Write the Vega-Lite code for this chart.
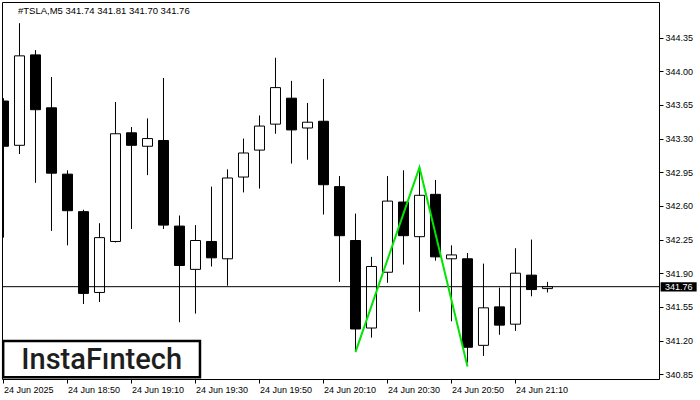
{
  "$schema": "https://vega.github.io/schema/vega-lite/v6.json",
  "width": 657,
  "height": 377,
  "autosize": {"type": "none"},
  "padding": {"left": 2, "top": 2, "right": 41, "bottom": 21},
  "background": "white",
  "config": {
    "view": {"stroke": "black", "strokeWidth": 1},
    "font": "Liberation Sans",
    "axis": {"labelOverlap": false, "labelBound": false},
    "scale": {"continuousPadding": 0}
  },
  "datasets": {
    "candles": [
      {"t": "2025-06-24T18:30:00Z", "o": 343.69, "h": 343.72, "l": 342.27, "c": 343.22},
      {"t": "2025-06-24T18:35:00Z", "o": 343.23, "h": 344.50, "l": 343.14, "c": 344.16},
      {"t": "2025-06-24T18:40:00Z", "o": 344.17, "h": 344.22, "l": 342.84, "c": 343.60},
      {"t": "2025-06-24T18:45:00Z", "o": 343.62, "h": 343.94, "l": 342.34, "c": 342.94},
      {"t": "2025-06-24T18:50:00Z", "o": 342.93, "h": 342.97, "l": 342.19, "c": 342.55},
      {"t": "2025-06-24T18:55:00Z", "o": 342.54, "h": 342.56, "l": 341.58, "c": 341.69},
      {"t": "2025-06-24T19:00:00Z", "o": 341.70, "h": 342.42, "l": 341.60, "c": 342.27},
      {"t": "2025-06-24T19:05:00Z", "o": 342.23, "h": 343.68, "l": 342.22, "c": 343.35},
      {"t": "2025-06-24T19:10:00Z", "o": 343.36, "h": 343.42, "l": 342.36, "c": 343.23},
      {"t": "2025-06-24T19:15:00Z", "o": 343.22, "h": 343.51, "l": 342.92, "c": 343.30},
      {"t": "2025-06-24T19:20:00Z", "o": 343.28, "h": 343.93, "l": 342.36, "c": 342.40},
      {"t": "2025-06-24T19:25:00Z", "o": 342.39, "h": 342.50, "l": 341.39, "c": 341.98},
      {"t": "2025-06-24T19:30:00Z", "o": 341.94, "h": 342.40, "l": 341.48, "c": 342.24},
      {"t": "2025-06-24T19:35:00Z", "o": 342.23, "h": 342.80, "l": 341.97, "c": 342.06},
      {"t": "2025-06-24T19:40:00Z", "o": 342.05, "h": 342.98, "l": 341.77, "c": 342.89},
      {"t": "2025-06-24T19:45:00Z", "o": 342.90, "h": 343.30, "l": 342.74, "c": 343.15},
      {"t": "2025-06-24T19:50:00Z", "o": 343.18, "h": 343.54, "l": 342.78, "c": 343.43},
      {"t": "2025-06-24T19:55:00Z", "o": 343.45, "h": 344.14, "l": 343.35, "c": 343.83},
      {"t": "2025-06-24T20:00:00Z", "o": 343.72, "h": 343.90, "l": 343.04, "c": 343.39},
      {"t": "2025-06-24T20:05:00Z", "o": 343.41, "h": 343.67, "l": 343.08, "c": 343.47},
      {"t": "2025-06-24T20:10:00Z", "o": 343.48, "h": 343.92, "l": 342.51, "c": 342.82},
      {"t": "2025-06-24T20:15:00Z", "o": 342.80, "h": 342.91, "l": 341.81, "c": 342.29},
      {"t": "2025-06-24T20:20:00Z", "o": 342.24, "h": 342.52, "l": 341.09, "c": 341.32},
      {"t": "2025-06-24T20:25:00Z", "o": 341.33, "h": 342.07, "l": 341.23, "c": 341.97},
      {"t": "2025-06-24T20:30:00Z", "o": 341.91, "h": 342.91, "l": 341.80, "c": 342.65},
      {"t": "2025-06-24T20:35:00Z", "o": 342.64, "h": 342.97, "l": 341.99, "c": 342.29},
      {"t": "2025-06-24T20:40:00Z", "o": 342.28, "h": 343.00, "l": 341.50, "c": 342.71},
      {"t": "2025-06-24T20:45:00Z", "o": 342.72, "h": 342.87, "l": 342.03, "c": 342.07},
      {"t": "2025-06-24T20:50:00Z", "o": 342.05, "h": 342.19, "l": 341.40, "c": 342.09},
      {"t": "2025-06-24T20:55:00Z", "o": 342.05, "h": 342.11, "l": 340.97, "c": 341.13},
      {"t": "2025-06-24T21:00:00Z", "o": 341.15, "h": 342.00, "l": 341.04, "c": 341.54},
      {"t": "2025-06-24T21:05:00Z", "o": 341.55, "h": 341.75, "l": 341.26, "c": 341.36},
      {"t": "2025-06-24T21:10:00Z", "o": 341.37, "h": 342.16, "l": 341.30, "c": 341.90},
      {"t": "2025-06-24T21:15:00Z", "o": 341.88, "h": 342.25, "l": 341.66, "c": 341.73},
      {"t": "2025-06-24T21:20:00Z", "o": 341.74, "h": 341.81, "l": 341.70, "c": 341.76}
    ],
    "pattern": [
      {"t": "2025-06-24T20:20:00Z", "p": 341.08},
      {"t": "2025-06-24T20:40:00Z", "p": 343.00},
      {"t": "2025-06-24T20:55:00Z", "p": 340.93}
    ],
    "one": [{}]
  },
  "layer": [
    {
      "data": {"name": "candles"},
      "mark": {"type": "rule", "color": "black", "strokeWidth": 1, "clip": true},
      "encoding": {
        "x": {
          "field": "t", "type": "temporal", "title": null,
          "scale": {
            "type": "utc",
            "nice": false,
            "padding": 0,
            "domain": [
              {"year": 2025, "month": 6, "date": 24, "hours": 18, "minutes": 29, "seconds": 32, "utc": true},
              {"year": 2025, "month": 6, "date": 24, "hours": 21, "minutes": 54, "seconds": 51, "utc": true}
            ]
          },
          "axis": {
            "orient": "bottom",
            "values": [
              {"year": 2025, "month": 6, "date": 24, "hours": 18, "minutes": 30, "utc": true},
              {"year": 2025, "month": 6, "date": 24, "hours": 18, "minutes": 50, "utc": true},
              {"year": 2025, "month": 6, "date": 24, "hours": 19, "minutes": 10, "utc": true},
              {"year": 2025, "month": 6, "date": 24, "hours": 19, "minutes": 30, "utc": true},
              {"year": 2025, "month": 6, "date": 24, "hours": 19, "minutes": 50, "utc": true},
              {"year": 2025, "month": 6, "date": 24, "hours": 20, "minutes": 10, "utc": true},
              {"year": 2025, "month": 6, "date": 24, "hours": 20, "minutes": 30, "utc": true},
              {"year": 2025, "month": 6, "date": 24, "hours": 20, "minutes": 50, "utc": true},
              {"year": 2025, "month": 6, "date": 24, "hours": 21, "minutes": 10, "utc": true}
            ],
            "tickCount": 30,
            "labelExpr": "utchours(datum.value) == 18 && utcminutes(datum.value) == 30 ? '24 Jun 2025' : utcFormat(datum.value, '%d %b %H:%M')",
            "labelAlign": "left",
            "labelBaseline": "top",
            "labelFontSize": 9,
            "labelColor": "black",
            "labelPadding": 2,
            "labelFlush": false,
            "labelOverlap": false,
            "tickSize": 4,
            "tickColor": "black",
            "domain": false,
            "grid": false,
            "title": null
          }
        },
        "y": {
          "field": "l", "type": "quantitative", "title": null,
          "scale": {"domain": [340.80, 344.72], "nice": false, "zero": false, "padding": 0},
          "axis": {
            "orient": "right",
            "values": [340.85, 341.20, 341.55, 341.90, 342.25, 342.60, 342.95, 343.30, 343.65, 344.00, 344.35],
            "tickCount": 30,
            "format": ".2f",
            "labelFontSize": 9,
            "labelColor": "black",
            "labelPadding": 2,
            "labelOverlap": false,
            "labelFlush": false,
            "tickSize": 4,
            "tickColor": "black",
            "domain": false,
            "grid": false,
            "title": null
          }
        },
        "y2": {"field": "h"}
      }
    },
    {
      "data": {"name": "candles"},
      "mark": {"type": "bar", "width": 10, "stroke": "black", "strokeWidth": 1, "clip": true},
      "encoding": {
        "x": {"field": "t", "type": "temporal", "title": null},
        "y": {"field": "o", "type": "quantitative", "title": null},
        "y2": {"field": "c"},
        "fill": {
          "condition": {"test": "datum.c >= datum.o", "value": "white"},
          "value": "black"
        }
      }
    },
    {
      "data": {"name": "one"},
      "mark": {"type": "rule", "color": "black", "strokeWidth": 1},
      "encoding": {"y": {"datum": 341.76}}
    },
    {
      "data": {"name": "pattern"},
      "mark": {"type": "line", "color": "#00e600", "strokeWidth": 2},
      "encoding": {
        "x": {"field": "t", "type": "temporal", "title": null},
        "y": {"field": "p", "type": "quantitative", "title": null}
      }
    },
    {
      "data": {"name": "one"},
      "mark": {"type": "rect", "fill": "white", "stroke": "black", "strokeWidth": 2.5},
      "encoding": {
        "x": {"datum": {"year": 2025, "month": 6, "date": 24, "hours": 18, "minutes": 29, "seconds": 54, "utc": true}, "type": "temporal"},
        "x2": {"datum": {"year": 2025, "month": 6, "date": 24, "hours": 19, "minutes": 31, "seconds": 24, "utc": true}},
        "y": {"datum": 341.194},
        "y2": {"datum": 340.817}
      }
    },
    {
      "data": {"name": "one"},
      "mark": {"type": "text", "text": "InstaFıntech", "font": "Roboto", "fontSize": 29, "fontWeight": 500, "color": "#1e1e1e", "align": "center", "baseline": "alphabetic"},
      "encoding": {
        "x": {"datum": {"year": 2025, "month": 6, "date": 24, "hours": 19, "minutes": 0, "seconds": 41, "utc": true}, "type": "temporal"},
        "y": {"datum": 340.905}
      }
    },
    {
      "data": {"name": "one"},
      "mark": {"type": "rect", "fill": "black"},
      "encoding": {
        "x": {"datum": {"year": 2025, "month": 6, "date": 24, "hours": 21, "minutes": 55, "seconds": 22, "utc": true}, "type": "temporal"},
        "x2": {"datum": {"year": 2025, "month": 6, "date": 24, "hours": 22, "minutes": 6, "seconds": 37, "utc": true}},
        "y": {"datum": 341.807},
        "y2": {"datum": 341.709}
      }
    },
    {
      "data": {"name": "one"},
      "mark": {"type": "text", "text": "341.76", "fontSize": 9, "color": "white", "align": "center", "baseline": "middle"},
      "encoding": {
        "x": {"datum": {"year": 2025, "month": 6, "date": 24, "hours": 22, "minutes": 1, "seconds": 0, "utc": true}, "type": "temporal"},
        "y": {"datum": 341.76}
      }
    },
    {
      "data": {"name": "one"},
      "mark": {"type": "text", "text": "#TSLA,M5  341.74 341.81 341.70 341.76", "fontSize": 9.5, "color": "black", "align": "left", "baseline": "middle"},
      "encoding": {
        "x": {"datum": {"year": 2025, "month": 6, "date": 24, "hours": 18, "minutes": 34, "seconds": 32, "utc": true}, "type": "temporal"},
        "y": {"datum": 344.63}
      }
    }
  ]
}
